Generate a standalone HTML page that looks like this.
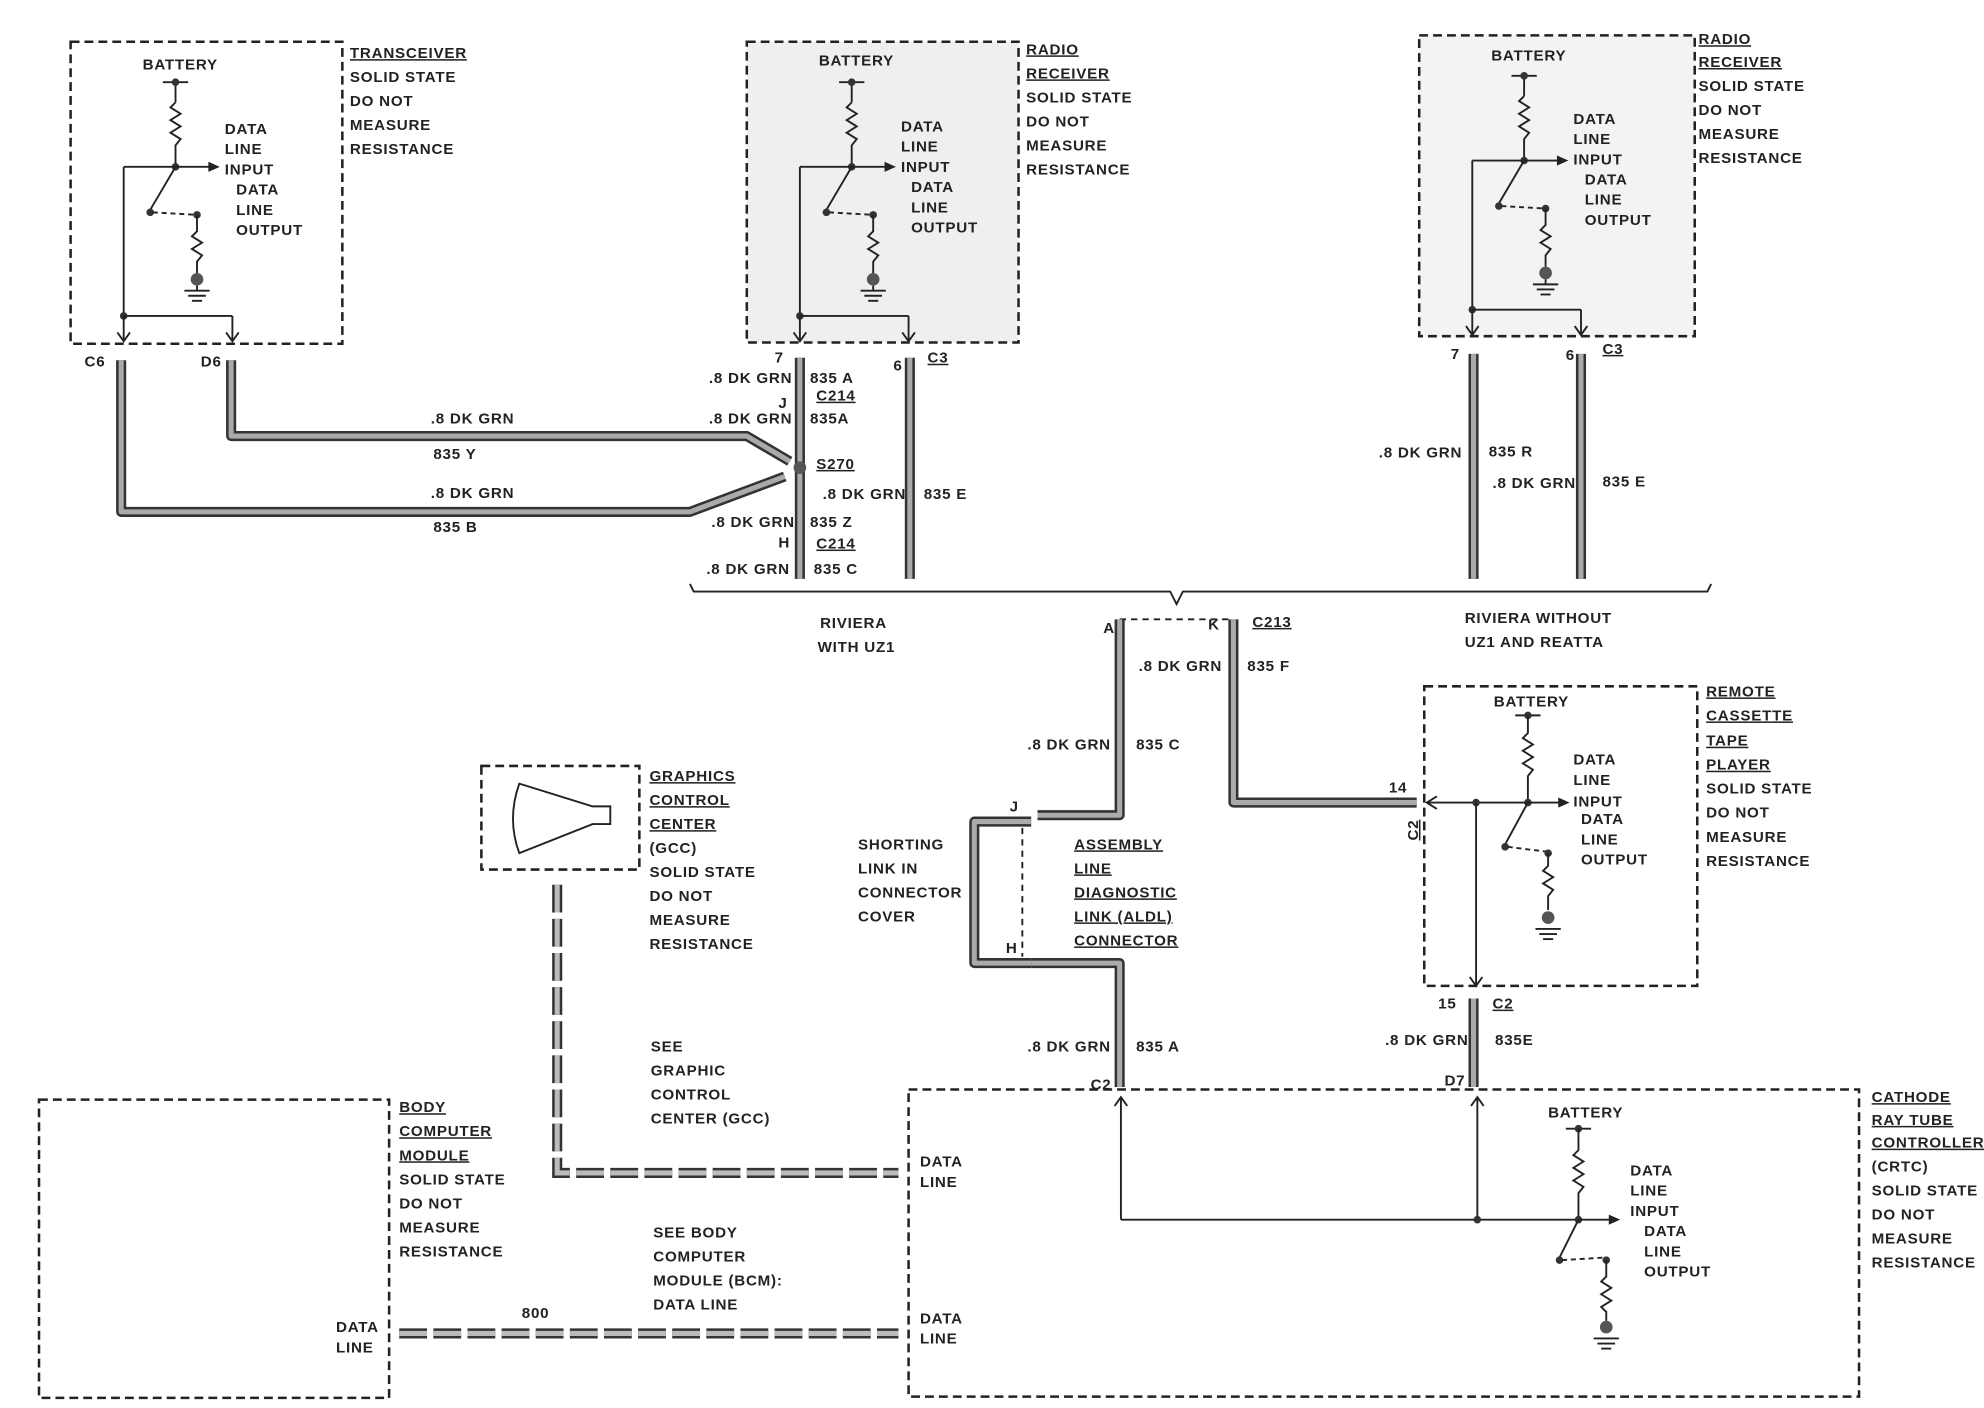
<!DOCTYPE html>
<html><head><meta charset="utf-8"><style>
html,body{margin:0;padding:0;background:#fff}
svg{display:block}
text{font-family:"Liberation Sans",sans-serif;font-weight:bold;font-size:12px;fill:#222;letter-spacing:0.6px}
.box{fill:none;stroke:#222;stroke-width:2;stroke-dasharray:7 4}
.wo{fill:none;stroke:#333;stroke-width:8;stroke-linejoin:round}
.wi{fill:none;stroke:#aaa;stroke-width:4;stroke-linejoin:round}
.dw{fill:none;stroke:#333;stroke-width:8;stroke-dasharray:22 5}
.dwi{fill:none;stroke:#bbb;stroke-width:4;stroke-dasharray:22 5}
.ln{fill:none;stroke:#222;stroke-width:1.5}
.u{text-decoration:underline}
</style></head><body>
<svg width="1984" height="1408" viewBox="0 0 1568 1114" xmlns="http://www.w3.org/2000/svg">
<defs>
<g id="circ">
 <line x1="73" y1="32" x2="93" y2="32" class="ln"/>
 <line x1="83" y1="32" x2="83" y2="48" class="ln"/>
 <circle cx="83" cy="32" r="3" fill="#333"/>
 <polyline class="ln" points="83,48 79,52 87,57 79,62 87,67 79,72 87,77 83,82 83,99"/>
 <circle cx="83" cy="99" r="3" fill="#333"/>
 <line x1="83" y1="99" x2="112" y2="99" class="ln"/>
 <polygon points="118,99 109,95 109,103" fill="#222"/>
 <line x1="83" y1="99" x2="63" y2="133" class="ln"/>
 <circle cx="63" cy="135" r="3" fill="#333"/>
 <line x1="65" y1="135" x2="100" y2="137" class="ln" stroke-dasharray="4 3"/>
 <circle cx="100" cy="137" r="3" fill="#333"/>
 <polyline class="ln" points="100,137 100,150 96,154 104,159 96,164 104,169 100,174 100,183"/>
 <circle cx="100" cy="188" r="5" fill="#555"/>
 <line x1="100" y1="193" x2="100" y2="197" class="ln"/>
 <line x1="90" y1="197" x2="110" y2="197" class="ln"/>
 <line x1="93" y1="201" x2="107" y2="201" class="ln"/>
 <line x1="96" y1="205" x2="104" y2="205" class="ln"/>
 <line x1="83" y1="99" x2="42" y2="99" class="ln"/>
 <line x1="42" y1="99" x2="42" y2="217" class="ln"/>
 <circle cx="42" cy="217" r="3" fill="#333"/>
 <line x1="42" y1="217" x2="128" y2="217" class="ln"/>
 <line x1="128" y1="217" x2="128" y2="237" class="ln"/>
 <line x1="42" y1="217" x2="42" y2="237" class="ln"/>
 <polyline class="ln" points="37,230 42,237 47,230"/>
 <polyline class="ln" points="123,230 128,237 133,230"/>
</g>
</defs>

<rect x="55" y="33" width="215" height="239" class="box"/>
<use href="#circ" x="55" y="33"/>
<text x="112" y="55" font-size="11">BATTERY</text>
<text x="177" y="106">DATA</text><text x="177" y="122">LINE</text><text x="177" y="138">INPUT</text>
<text x="186" y="154">DATA</text><text x="186" y="170">LINE</text><text x="186" y="186">OUTPUT</text>
<text x="276" y="46" class="u">TRANSCEIVER</text><text x="276" y="65">SOLID STATE</text><text x="276" y="84">DO NOT</text><text x="276" y="103">MEASURE</text><text x="276" y="122">RESISTANCE</text>

<rect x="590" y="33" width="215" height="238" class="box" style="fill:#efefef"/>
<use href="#circ" x="590" y="33"/>
<text x="647" y="52" font-size="11">BATTERY</text>
<text x="712" y="104">DATA</text><text x="712" y="120">LINE</text><text x="712" y="136">INPUT</text>
<text x="720" y="152">DATA</text><text x="720" y="168">LINE</text><text x="720" y="184">OUTPUT</text>
<text x="811" y="43" class="u">RADIO</text><text x="811" y="62" class="u">RECEIVER</text><text x="811" y="81">SOLID STATE</text><text x="811" y="100">DO NOT</text><text x="811" y="119">MEASURE</text><text x="811" y="138">RESISTANCE</text>

<rect x="1122" y="28" width="218" height="238" class="box" style="fill:#f3f3f3"/>
<use href="#circ" x="1122" y="28"/>
<text x="1179" y="48" font-size="11">BATTERY</text>
<text x="1244" y="98">DATA</text><text x="1244" y="114">LINE</text><text x="1244" y="130">INPUT</text>
<text x="1253" y="146">DATA</text><text x="1253" y="162">LINE</text><text x="1253" y="178">OUTPUT</text>
<text x="1343" y="35" class="u">RADIO</text><text x="1343" y="53" class="u">RECEIVER</text><text x="1343" y="72">SOLID STATE</text><text x="1343" y="91">DO NOT</text><text x="1343" y="110">MEASURE</text><text x="1343" y="129">RESISTANCE</text>

<path class="wo" d="M95,285 V405 H545 L620,377"/><path class="wi" d="M95,285 V405 H545 L620,377"/>
<path class="wo" d="M182,285 V345 H590 L624,365"/><path class="wi" d="M182,285 V345 H590 L624,365"/>
<path class="wo" d="M632,283 V458"/><path class="wi" d="M632,283 V458"/>
<path class="wo" d="M719,283 V458"/><path class="wi" d="M719,283 V458"/>
<circle cx="632" cy="370" r="5" fill="#555"/>
<text x="66" y="290">C6</text><text x="158" y="290">D6</text>
<text x="612" y="287">7</text><text x="706" y="293">6</text><text x="733" y="287" class="u">C3</text>
<text x="340" y="335">.8 DK GRN</text><text x="342" y="363">835 Y</text>
<text x="340" y="394">.8 DK GRN</text><text x="342" y="421">835 B</text>
<text x="560" y="303">.8 DK GRN</text><text x="640" y="303">835 A</text>
<text x="645" y="317" class="u">C214</text><text x="615" y="323">J</text>
<text x="560" y="335">.8 DK GRN</text><text x="640" y="335">835A</text>
<text x="645" y="371" class="u">S270</text>
<text x="650" y="395">.8 DK GRN</text><text x="730" y="395">835 E</text>
<text x="562" y="417">.8 DK GRN</text><text x="640" y="417">835 Z</text>
<text x="615" y="433">H</text><text x="645" y="434" class="u">C214</text>
<text x="558" y="454">.8 DK GRN</text><text x="643" y="454">835 C</text>

<path class="wo" d="M1165,280 V458"/><path class="wi" d="M1165,280 V458"/>
<path class="wo" d="M1250,280 V458"/><path class="wi" d="M1250,280 V458"/>
<text x="1147" y="284">7</text><text x="1238" y="285">6</text><text x="1267" y="280" class="u">C3</text>
<text x="1090" y="362">.8 DK GRN</text><text x="1177" y="361">835 R</text>
<text x="1180" y="386">.8 DK GRN</text><text x="1267" y="385">835 E</text>

<polyline class="ln" points="545,462 548,468 925,468 930,478 935,468 1350,468 1353,462"/>
<text x="648" y="497">RIVIERA</text><text x="646" y="516">WITH UZ1</text>
<text x="1158" y="493">RIVIERA WITHOUT</text><text x="1158" y="512">UZ1 AND REATTA</text>
<path d="M885,490 H975" class="ln" stroke-dasharray="5 4"/>
<text x="872" y="501">A</text><text x="955" y="498">K</text><text x="990" y="496" class="u">C213</text>

<path class="wo" d="M885,490 V645 H820"/><path class="wi" d="M885,490 V645 H820"/>
<path class="wo" d="M975,490 V635 H1120"/><path class="wi" d="M975,490 V635 H1120"/>
<path class="wo" d="M815,650 H770 V762 H815"/><path class="wi" d="M815,650 H770 V762 H815"/>
<path class="wo" d="M815,762 H885 V860"/><path class="wi" d="M815,762 H885 V860"/>
<line x1="808" y1="655" x2="808" y2="757" class="ln" stroke-dasharray="5 4"/>
<text x="900" y="531">.8 DK GRN</text><text x="986" y="531">835 F</text>
<text x="812" y="593">.8 DK GRN</text><text x="898" y="593">835 C</text>
<text x="798" y="642">J</text><text x="795" y="754">H</text>
<text x="678" y="672">SHORTING</text><text x="678" y="691">LINK IN</text><text x="678" y="710">CONNECTOR</text><text x="678" y="729">COVER</text>
<text x="849" y="672" class="u">ASSEMBLY</text><text x="849" y="691" class="u">LINE</text><text x="849" y="710" class="u">DIAGNOSTIC</text><text x="849" y="729" class="u">LINK (ALDL)</text><text x="849" y="748" class="u">CONNECTOR</text>
<text x="812" y="832">.8 DK GRN</text><text x="898" y="832">835 A</text>
<text x="862" y="862">C2</text>

<rect x="1126" y="543" width="216" height="237" class="box"/>
<text x="1181" y="559" font-size="11">BATTERY</text>
<line x1="1198" y1="566" x2="1218" y2="566" class="ln"/><circle cx="1208" cy="566" r="3" fill="#333"/>
<polyline class="ln" points="1208,566 1208,580 1204,584 1212,589 1204,594 1212,599 1204,604 1212,609 1208,614 1208,635"/>
<circle cx="1208" cy="635" r="3" fill="#333"/>
<line x1="1208" y1="635" x2="1235" y2="635" class="ln"/><polygon points="1241,635 1232,631 1232,639" fill="#222"/>
<line x1="1128" y1="635" x2="1208" y2="635" class="ln"/><polyline class="ln" points="1136,630 1128,635 1136,640"/>
<circle cx="1167" cy="635" r="3" fill="#333"/>
<line x1="1167" y1="635" x2="1167" y2="780" class="ln"/><polyline class="ln" points="1162,773 1167,780 1172,773"/>
<line x1="1208" y1="635" x2="1190" y2="668" class="ln"/><circle cx="1190" cy="670" r="3" fill="#333"/>
<line x1="1192" y1="670" x2="1224" y2="674" class="ln" stroke-dasharray="4 3"/><circle cx="1224" cy="675" r="3" fill="#333"/>
<polyline class="ln" points="1224,675 1224,685 1220,689 1228,694 1220,699 1228,704 1224,709 1224,720"/>
<circle cx="1224" cy="726" r="5" fill="#555"/>
<line x1="1214" y1="735" x2="1234" y2="735" class="ln"/><line x1="1217" y1="739" x2="1231" y2="739" class="ln"/><line x1="1220" y1="743" x2="1228" y2="743" class="ln"/>
<text x="1244" y="605">DATA</text><text x="1244" y="621">LINE</text><text x="1244" y="638">INPUT</text>
<text x="1250" y="652">DATA</text><text x="1250" y="668">LINE</text><text x="1250" y="684">OUTPUT</text>
<text x="1098" y="627">14</text><text x="1108" y="664" class="u" transform="rotate(-90 1115 658)">C2</text>
<text x="1349" y="551" class="u">REMOTE</text><text x="1349" y="570" class="u">CASSETTE</text><text x="1349" y="590" class="u">TAPE</text><text x="1349" y="609" class="u">PLAYER</text><text x="1349" y="628">SOLID STATE</text><text x="1349" y="647">DO NOT</text><text x="1349" y="666">MEASURE</text><text x="1349" y="685">RESISTANCE</text>
<path class="wo" d="M1165,790 V860"/><path class="wi" d="M1165,790 V860"/>
<text x="1137" y="798">15</text><text x="1180" y="798" class="u">C2</text>
<text x="1095" y="827">.8 DK GRN</text><text x="1182" y="827">835E</text>
<text x="1142" y="859">D7</text>

<rect x="380" y="606" width="125" height="82" class="box"/>
<path d="M410,620 L468,638 H482 V652 H468 L410,675 Q400,648 410,620 Z" class="ln" fill="#fff"/>
<text x="513" y="618" class="u">GRAPHICS</text><text x="513" y="637" class="u">CONTROL</text><text x="513" y="656" class="u">CENTER</text><text x="513" y="675">(GCC)</text><text x="513" y="694">SOLID STATE</text><text x="513" y="713">DO NOT</text><text x="513" y="732">MEASURE</text><text x="513" y="751">RESISTANCE</text>
<path class="dw" d="M440,700 V928 H710"/><path class="dwi" d="M440,700 V928 H710"/>
<text x="514" y="832">SEE</text><text x="514" y="851">GRAPHIC</text><text x="514" y="870">CONTROL</text><text x="514" y="889">CENTER (GCC)</text>

<rect x="30" y="870" width="277" height="236" class="box"/>
<text x="315" y="880" class="u">BODY</text><text x="315" y="899" class="u">COMPUTER</text><text x="315" y="918" class="u">MODULE</text><text x="315" y="937">SOLID STATE</text><text x="315" y="956">DO NOT</text><text x="315" y="975">MEASURE</text><text x="315" y="994">RESISTANCE</text>
<text x="265" y="1054">DATA</text><text x="265" y="1070">LINE</text>
<path class="dw" d="M315,1055 H710"/><path class="dwi" d="M315,1055 H710"/>
<text x="412" y="1043">800</text>
<text x="516" y="979">SEE BODY</text><text x="516" y="998">COMPUTER</text><text x="516" y="1017">MODULE (BCM):</text><text x="516" y="1036">DATA LINE</text>

<rect x="718" y="862" width="752" height="243" class="box"/>
<text x="727" y="923">DATA</text><text x="727" y="939">LINE</text>
<text x="727" y="1047">DATA</text><text x="727" y="1063">LINE</text>
<line x1="886" y1="868" x2="886" y2="965" class="ln"/><polyline class="ln" points="881,875 886,868 891,875"/>
<line x1="1168" y1="868" x2="1168" y2="965" class="ln"/><polyline class="ln" points="1163,875 1168,868 1173,875"/>
<line x1="886" y1="965" x2="1248" y2="965" class="ln"/><circle cx="1168" cy="965" r="3" fill="#333"/>
<text x="1224" y="884" font-size="11">BATTERY</text>
<line x1="1238" y1="893" x2="1258" y2="893" class="ln"/><circle cx="1248" cy="893" r="3" fill="#333"/>
<polyline class="ln" points="1248,893 1248,910 1244,914 1252,919 1244,924 1252,929 1244,934 1252,939 1248,944 1248,965"/>
<circle cx="1248" cy="965" r="3" fill="#333"/>
<line x1="1248" y1="965" x2="1275" y2="965" class="ln"/><polygon points="1281,965 1272,961 1272,969" fill="#222"/>
<line x1="1248" y1="965" x2="1233" y2="995" class="ln"/><circle cx="1233" cy="997" r="3" fill="#333"/>
<line x1="1235" y1="997" x2="1268" y2="995" class="ln" stroke-dasharray="4 3"/><circle cx="1270" cy="997" r="3" fill="#333"/>
<polyline class="ln" points="1270,997 1270,1010 1266,1014 1274,1019 1266,1024 1274,1029 1266,1034 1270,1038 1270,1045"/>
<circle cx="1270" cy="1050" r="5" fill="#555"/>
<line x1="1260" y1="1059" x2="1280" y2="1059" class="ln"/><line x1="1263" y1="1063" x2="1277" y2="1063" class="ln"/><line x1="1266" y1="1067" x2="1274" y2="1067" class="ln"/>
<text x="1289" y="930">DATA</text><text x="1289" y="946">LINE</text><text x="1289" y="962">INPUT</text>
<text x="1300" y="978">DATA</text><text x="1300" y="994">LINE</text><text x="1300" y="1010">OUTPUT</text>
<text x="1480" y="872" class="u">CATHODE</text><text x="1480" y="890" class="u">RAY TUBE</text><text x="1480" y="908" class="u">CONTROLLER</text><text x="1480" y="927">(CRTC)</text><text x="1480" y="946">SOLID STATE</text><text x="1480" y="965">DO NOT</text><text x="1480" y="984">MEASURE</text><text x="1480" y="1003">RESISTANCE</text>
</svg>
</body></html>
